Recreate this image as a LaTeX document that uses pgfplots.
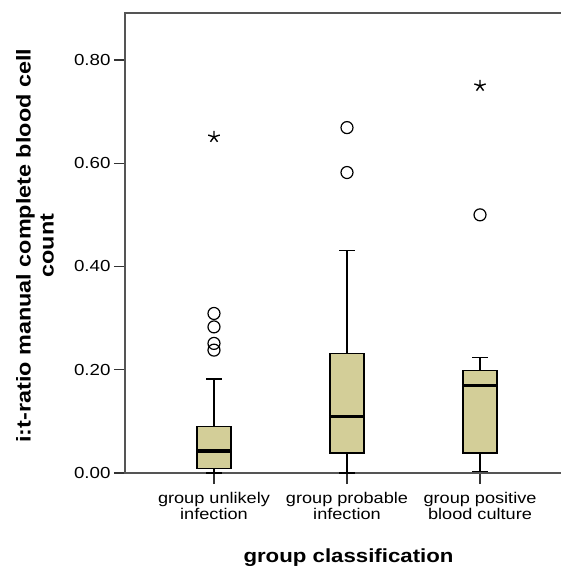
\documentclass[border=0pt]{standalone}
\usepackage{fontspec}
\setmainfont{Liberation Sans}[FakeStretch=1.17]
\usepackage{pgfplots}
\pgfplotsset{compat=1.18}
\usepgfplotslibrary{statistics}
\definecolor{boxtan}{RGB}{211,206,152}
\definecolor{axgray}{RGB}{85,85,85}
\begin{document}
\begin{tikzpicture}
\begin{axis}[
  name=ax,
  scale only axis, width=444pt, height=460pt,
  xmin=0.331, xmax=3.669, ymin=0, ymax=0.891,
  clip=false,
  axis line style={axgray, line width=1.4pt},
  tick style={black!80, line width=1.4pt},
  tick align=outside, major tick length=11pt,
  xtick pos=lower, ytick pos=left,
  xtick={1,2,3},
  xticklabels={{group unlikely\\infection},{group probable\\infection},{group positive\\blood culture}},
  xticklabel style={align=center, yshift=-5pt, font=\fontsize{15.5}{16}\selectfont},
  ytick={0,0.2,0.4,0.6,0.8},
  yticklabel style={font=\fontsize{16}{18}\selectfont},
  yticklabel style={/pgf/number format/.cd, fixed, fixed zerofill, precision=2, assume math mode=true},
  every axis y label/.style={at={(rel axis cs:-0.2027,0.4940)}, rotate=90, anchor=center, align=center, font=\bfseries\fontsize{20}{23}\selectfont},
  every axis x label/.style={at={(rel axis cs:0.5034,-0.1935)}, anchor=base, font=\bfseries\fontsize{19}{22}\selectfont},
  ylabel={i:t-ratio manual complete blood cell\\count},
  xlabel={group classification},
  boxplot/draw direction=y,
  boxplot/every median/.style={line width=3.5pt},
]
\addplot+[boxplot prepared={draw position=1, lower whisker=0, lower quartile=0.009, median=0.043, upper quartile=0.090, upper whisker=0.182, box extend=0.256, whisker extend=0.12},
  draw=black, fill=boxtan, line width=1.3pt, mark=none, solid] coordinates {};
\addplot+[boxplot prepared={draw position=2, lower whisker=0, lower quartile=0.039, median=0.109, upper quartile=0.232, upper whisker=0.431, box extend=0.256, whisker extend=0.12},
  draw=black, fill=boxtan, line width=1.3pt, mark=none, solid] coordinates {};
\addplot+[boxplot prepared={draw position=3, lower whisker=0.003, lower quartile=0.039, median=0.169, upper quartile=0.199, upper whisker=0.224, box extend=0.256, whisker extend=0.12},
  draw=black, fill=boxtan, line width=1.3pt, mark=none, solid] coordinates {};
\addplot[only marks, mark=o, mark size=6pt, line width=1.2pt, black] coordinates {(1,0.309)(1,0.283)(1,0.251)(1,0.238)(2,0.669)(2,0.582)(3,0.500)};
\addplot[only marks, mark=star, mark size=6pt, line width=1.4pt, black] coordinates {(1,0.651)(3,0.750)};
\end{axis}
\pgfresetboundingbox
\path[use as bounding box] ([shift={(-125pt,-95pt)}]ax.south west) rectangle ([shift={(435pt,13pt)}]ax.north west);
\end{tikzpicture}
\end{document}
